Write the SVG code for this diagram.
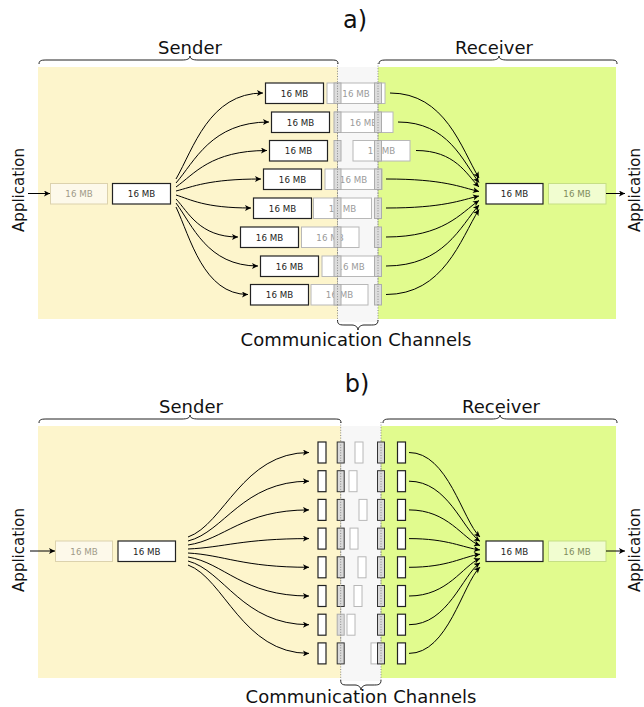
<svg xmlns="http://www.w3.org/2000/svg" width="644" height="707" viewBox="0 0 644 707">
<style>
text{font-family:"DejaVu Sans","Liberation Sans",sans-serif}
.yel{fill:#fdf5cc}
.grn{fill:#e1fb8e}
.strip{fill:#f7f7f7}
.dot{stroke:#8a8a8a;stroke-width:1;stroke-dasharray:1 1.6;fill:none}
.brace{fill:none;stroke:#222;stroke-width:1}
.title{font-size:24px;fill:#111;text-anchor:middle}
.side{font-size:18px;fill:#111;text-anchor:middle}
.app{font-size:15px;fill:#111;text-anchor:middle}
.solid{fill:#fff;stroke:#222;stroke-width:1.2}
.ghost{fill:#fff;stroke:#b8b8b8;stroke-width:1}
.gy{fill:#fdf9ea;stroke:#dcd2ad;stroke-width:1}
.gg{fill:#f1fdd0;stroke:#c6df85;stroke-width:1}
.lbl{font-size:8.7px;fill:#222;text-anchor:middle}
.glbl{font-size:8.7px;fill:#9a9a9a;text-anchor:middle}
.yglbl{font-size:8.7px;fill:#a09a88;text-anchor:middle}
.gglbl{font-size:8.7px;fill:#7f8c5c;text-anchor:middle}
.mk{fill:#dcdcdc;stroke:#acacac;stroke-width:1}
.mkd{fill:#d9d9d9;stroke:#333;stroke-width:1}
.c{fill:none;stroke:#000;stroke-width:1;marker-end:url(#ah)}
</style>
<defs>
<marker id="ah" viewBox="0 0 10 10" refX="10" refY="5" markerWidth="8" markerHeight="6" markerUnits="userSpaceOnUse" orient="auto">
<path d="M0,0 L10,5 L0,10 L2.5,5 z" fill="#000"/>
</marker>
</defs>

<!-- ===== Part a ===== -->
<g id="a-background">
<rect class="yel" x="38" y="67" width="300" height="252"/>
<rect class="strip" x="338" y="67" width="40" height="255"/>
<rect class="grn" x="378" y="67" width="238" height="252"/>
<line class="dot" x1="337.5" y1="63" x2="337.5" y2="321"/>
<line class="dot" x1="378" y1="63" x2="378" y2="321"/>
</g>
<g id="a-title">
<text class="title" x="355" y="28">a)</text>
<text class="side" x="190" y="54">Sender</text>
<path class="brace" d="M39,64 C39,60 42,60 48,60 H182 C187,60 190,59 190,56 C190,59 193,60 198,60 H330 C336,60 338,60 338,64"/>
<text class="side" x="494" y="54">Receiver</text>
<path class="brace" d="M379,64 C379,60 382,60 388,60 H491 C496,60 499,59 499,56 C499,59 502,60 507,60 H609 C615,60 617,60 617,64"/>
<path class="brace" d="M337.5,320 C337.5,325 340,325 346,325 H352 C355,325 358,327 358,330 C358,327 361,325 364,325 H370 C375,325 378,325 378,320"/>
<text class="side" x="356" y="346">Communication Channels</text>
</g>
<g id="a-app-in">
<text class="app" transform="translate(24,190) rotate(-90)">Application</text>
</g>
<g id="a-app-out">
<text class="app" transform="translate(639.5,190) rotate(-90)">Application</text>
</g>
<g id="a-src-queue"><rect class="gy" x="50.5" y="183.5" width="57" height="20.5"/><text class="yglbl" x="79" y="197">16 MB</text></g>
<g id="a-src"><rect class="solid" x="112.5" y="183.5" width="58" height="20.5"/><text class="lbl" x="141.5" y="197">16 MB</text></g>
<g id="a-dst"><rect class="solid" x="486" y="183.5" width="57" height="20.5"/><text class="lbl" x="514.5" y="197">16 MB</text></g>
<g id="a-dst-queue"><rect class="gg" x="548.5" y="183.5" width="57.5" height="20.5"/><text class="gglbl" x="577" y="197">16 MB</text></g>

<!-- in-flight (ghost) boxes a -->
<g id="a-transit">
<rect class="ghost" x="327" y="83" width="58" height="20.5"/><text class="glbl" x="356" y="96.5">16 MB</text>
<rect class="ghost" x="334.5" y="112" width="58.5" height="20.5"/><text class="glbl" x="363.5" y="125.5">16 MB</text>
<rect class="ghost" x="353" y="140.5" width="57" height="20.5"/><text class="glbl" x="381.5" y="154">16 MB</text>
<rect class="ghost" x="325" y="169" width="57" height="20.5"/><text class="glbl" x="353.5" y="182.5">16 MB</text>
<rect class="ghost" x="313.5" y="198" width="58" height="20.5"/><text class="glbl" x="342.5" y="211.5">16 MB</text>
<rect class="ghost" x="301.5" y="227" width="57.5" height="20.5"/><text class="glbl" x="330" y="240.5">16 MB</text>
<rect class="ghost" x="322" y="256" width="58" height="20.5"/><text class="glbl" x="351" y="269.5">16 MB</text>
<rect class="ghost" x="311" y="284.5" width="57" height="20.5"/><text class="glbl" x="339.5" y="298">16 MB</text>
</g>
<!-- send boxes a -->
<g id="a-send-1"><rect class="solid" x="265.5" y="83" width="58" height="20.5"/><text class="lbl" x="294.5" y="96.5">16 MB</text></g>
<g id="a-send-2"><rect class="solid" x="271.5" y="112" width="58" height="20.5"/><text class="lbl" x="300.5" y="125.5">16 MB</text></g>
<g id="a-send-3"><rect class="solid" x="269.5" y="140.5" width="58" height="20.5"/><text class="lbl" x="298.5" y="154">16 MB</text></g>
<g id="a-send-4"><rect class="solid" x="263.5" y="169" width="58" height="20.5"/><text class="lbl" x="292.5" y="182.5">16 MB</text></g>
<g id="a-send-5"><rect class="solid" x="253.5" y="198" width="58" height="20.5"/><text class="lbl" x="282.5" y="211.5">16 MB</text></g>
<g id="a-send-6"><rect class="solid" x="240.5" y="227" width="58" height="20.5"/><text class="lbl" x="269.5" y="240.5">16 MB</text></g>
<g id="a-send-7"><rect class="solid" x="260.5" y="256" width="58" height="20.5"/><text class="lbl" x="289.5" y="269.5">16 MB</text></g>
<g id="a-send-8"><rect class="solid" x="250.5" y="284.5" width="58" height="20.5"/><text class="lbl" x="279.5" y="298">16 MB</text></g>
<!-- channel endpoints a -->
<g id="a-endpoints">
<rect class="mk" x="334" y="83" width="7" height="20.5"/><rect class="mk" x="374.5" y="83" width="7" height="20.5"/>
<rect class="mk" x="334" y="112" width="7" height="20.5"/><rect class="mk" x="374.5" y="112" width="7" height="20.5"/>
<rect class="mk" x="334" y="140.5" width="7" height="20.5"/><rect class="mk" x="374.5" y="140.5" width="7" height="20.5"/>
<rect class="mk" x="334" y="169" width="7" height="20.5"/><rect class="mk" x="374.5" y="169" width="7" height="20.5"/>
<rect class="mk" x="334" y="198" width="7" height="20.5"/><rect class="mk" x="374.5" y="198" width="7" height="20.5"/>
<rect class="mk" x="334" y="227" width="7" height="20.5"/><rect class="mk" x="374.5" y="227" width="7" height="20.5"/>
<rect class="mk" x="334" y="256" width="7" height="20.5"/><rect class="mk" x="374.5" y="256" width="7" height="20.5"/>
<rect class="mk" x="334" y="284.5" width="7" height="20.5"/><rect class="mk" x="374.5" y="284.5" width="7" height="20.5"/>
<line class="dot" x1="337.5" y1="83" x2="337.5" y2="306"/>
<line class="dot" x1="378" y1="83" x2="378" y2="306"/>
</g>

<!-- ===== Part b ===== -->
<g id="b-background">
<rect class="yel" x="38" y="426" width="303" height="252"/>
<rect class="strip" x="341" y="426" width="40" height="255"/>
<rect class="grn" x="381" y="426" width="235" height="252"/>
<line class="dot" x1="340.7" y1="422" x2="340.7" y2="680"/>
<line class="dot" x1="381" y1="422" x2="381" y2="680"/>
</g>
<g id="b-title">
<text class="title" x="357" y="392">b)</text>
<text class="side" x="191" y="413">Sender</text>
<path class="brace" d="M39,423 C39,419 42,419 48,419 H182 C187,419 190,418 190,415 C190,418 193,419 198,419 H333 C339,419 341,419 341,423"/>
<text class="side" x="501" y="413">Receiver</text>
<path class="brace" d="M383,423 C383,419 386,419 392,419 H492 C497,419 500,418 500,415 C500,418 503,419 508,419 H609 C615,419 617,419 617,423"/>
<path class="brace" d="M340.7,680 C340.7,685 343,685 349,685 H355 C358,685 361,687 361,690 C361,687 364,685 367,685 H373 C378,685 381,685 381,680"/>
<text class="side" x="361" y="703">Communication Channels</text>
</g>
<g id="b-app-in">
<text class="app" transform="translate(24,550) rotate(-90)">Application</text>
</g>
<g id="b-app-out">
<text class="app" transform="translate(639.5,550) rotate(-90)">Application</text>
</g>
<g id="b-src-queue"><rect class="gy" x="55.5" y="541" width="57" height="20.5"/><text class="yglbl" x="84" y="554.5">16 MB</text></g>
<g id="b-src"><rect class="solid" x="118" y="541" width="57.5" height="20.5"/><text class="lbl" x="146.75" y="554.5">16 MB</text></g>
<g id="b-dst"><rect class="solid" x="486" y="541" width="57" height="20.5"/><text class="lbl" x="514.5" y="554.5">16 MB</text></g>
<g id="b-dst-queue"><rect class="gg" x="548.5" y="541" width="57.5" height="20.5"/><text class="gglbl" x="577" y="554.5">16 MB</text></g>

<g id="b-transit">
<rect class="ghost" x="355" y="442" width="8" height="21"/>
<rect class="ghost" x="349" y="470.7" width="8" height="21"/>
<rect class="ghost" x="359" y="499.4" width="8" height="21"/>
<rect class="ghost" x="350" y="528.1" width="8" height="21"/>
<rect class="ghost" x="358" y="556.8" width="8" height="21"/>
<rect class="ghost" x="354" y="585.5" width="8" height="21"/>
<rect class="ghost" x="347" y="614.2" width="8" height="21"/>
<rect class="ghost" x="371" y="642.9" width="8" height="21"/>
</g>
<g id="b-send">
<rect class="solid" x="318" y="442" width="8" height="21"/>
<rect class="solid" x="318" y="470.7" width="8" height="21"/>
<rect class="solid" x="318" y="499.4" width="8" height="21"/>
<rect class="solid" x="318" y="528.1" width="8" height="21"/>
<rect class="solid" x="318" y="556.8" width="8" height="21"/>
<rect class="solid" x="318" y="585.5" width="8" height="21"/>
<rect class="solid" x="318" y="614.2" width="8" height="21"/>
<rect class="solid" x="318" y="642.9" width="8" height="21"/>
</g>
<g id="b-recv">
<rect class="solid" x="397.5" y="442" width="8" height="21"/>
<rect class="solid" x="397.5" y="470.7" width="8" height="21"/>
<rect class="solid" x="397.5" y="499.4" width="8" height="21"/>
<rect class="solid" x="397.5" y="528.1" width="8" height="21"/>
<rect class="solid" x="397.5" y="556.8" width="8" height="21"/>
<rect class="solid" x="397.5" y="585.5" width="8" height="21"/>
<rect class="solid" x="397.5" y="614.2" width="8" height="21"/>
<rect class="solid" x="397.5" y="642.9" width="8" height="21"/>
</g>
<g id="b-endpoints">
<rect class="mkd" x="337.2" y="442" width="7" height="21"/><rect class="mkd" x="377.5" y="442" width="7" height="21"/>
<rect class="mkd" x="337.2" y="470.7" width="7" height="21"/><rect class="mkd" x="377.5" y="470.7" width="7" height="21"/>
<rect class="mkd" x="337.2" y="499.4" width="7" height="21"/><rect class="mkd" x="377.5" y="499.4" width="7" height="21"/>
<rect class="mkd" x="337.2" y="528.1" width="7" height="21"/><rect class="mkd" x="377.5" y="528.1" width="7" height="21"/>
<rect class="mkd" x="337.2" y="556.8" width="7" height="21"/><rect class="mkd" x="377.5" y="556.8" width="7" height="21"/>
<rect class="mkd" x="337.2" y="585.5" width="7" height="21"/><rect class="mkd" x="377.5" y="585.5" width="7" height="21"/>
<rect class="mk" x="337.2" y="614.2" width="7" height="21"/><rect class="mkd" x="377.5" y="614.2" width="7" height="21"/>
<rect class="mkd" x="337.2" y="642.9" width="7" height="21"/><rect class="mkd" x="377.5" y="642.9" width="7" height="21"/>
<line class="dot" x1="340.7" y1="442" x2="340.7" y2="664"/>
<line class="dot" x1="381" y1="442" x2="381" y2="664"/>
</g>

<g id="connectors">
<!-- a: application arrows -->
<path class="c" d="M28,193.5 H50"/>
<path class="c" d="M606,193.5 H625"/>
<!-- a: sender fan -->
<path class="c" d="M176,179 C193.4,148.9 209.1,93 263,93"/>
<path class="c" d="M176,183 C194.6,161.6 211.3,122 269,122"/>
<path class="c" d="M176,187 C194.2,174.2 210.6,150.5 267,150.5"/>
<path class="c" d="M176,191 C193,186.8 208.3,179 261,179"/>
<path class="c" d="M176,195 C191,199.6 204.5,208 251,208"/>
<path class="c" d="M176,199 C188.4,212.3 199.6,237 238,237"/>
<path class="c" d="M176,203 C192.4,225 207.2,266 258,266"/>
<path class="c" d="M176,207 C190.4,237.6 203.4,294.5 248,294.5"/>
<!-- a: receiver fan -->
<path class="c" d="M390,93 C445.2,93 461.2,148.3 479,178"/>
<path class="c" d="M398,122 C448.2,122 462.8,161.3 479,182.5"/>
<path class="c" d="M416,150.5 C455.1,150.5 466.4,174.2 479,187"/>
<path class="c" d="M386,179 C443.7,179 460.4,187.1 479,191.5"/>
<path class="c" d="M386,208 C443.7,208 460.4,200.2 479,196"/>
<path class="c" d="M386,237 C443.7,237 460.4,213.3 479,200.5"/>
<path class="c" d="M386,266 C443.7,266 460.4,226.4 479,205"/>
<path class="c" d="M386,294.5 C443.7,294.5 460.4,239.3 479,209.5"/>
<!-- b: application arrows -->
<path class="c" d="M30,551 H55"/>
<path class="c" d="M606,551 H625"/>
<!-- b: sender fan -->
<path class="c" d="M188,537 C224.3,524.3 242.5,452.5 309,452.5"/>
<path class="c" d="M188,541 C224.3,532 242.5,481.2 309,481.2"/>
<path class="c" d="M188,545 C224.3,539.7 242.5,509.9 309,509.9"/>
<path class="c" d="M188,549 C224.3,547.4 242.5,538.6 309,538.6"/>
<path class="c" d="M188,553 C224.3,555.1 242.5,567.3 309,567.3"/>
<path class="c" d="M188,557 C224.3,562.9 242.5,596 309,596"/>
<path class="c" d="M188,561 C224.3,570.6 242.5,624.7 309,624.7"/>
<path class="c" d="M188,565 C224.3,578.3 242.5,653.4 309,653.4"/>
<!-- b: receiver fan -->
<path class="c" d="M409,452.5 C448,452.5 462.3,520.1 480,537"/>
<path class="c" d="M409,481.2 C448,481.2 462.3,529.3 480,541.3"/>
<path class="c" d="M409,509.9 C448,509.9 462.3,538.5 480,545.6"/>
<path class="c" d="M409,538.6 C448,538.6 462.3,547.6 480,549.9"/>
<path class="c" d="M409,567.3 C448,567.3 462.3,556.8 480,554.2"/>
<path class="c" d="M409,596 C448,596 462.3,566 480,558.5"/>
<path class="c" d="M409,624.7 C448,624.7 462.3,575.2 480,562.8"/>
<path class="c" d="M409,653.4 C448,653.4 462.3,584.4 480,567.1"/>
</g>
</svg>
